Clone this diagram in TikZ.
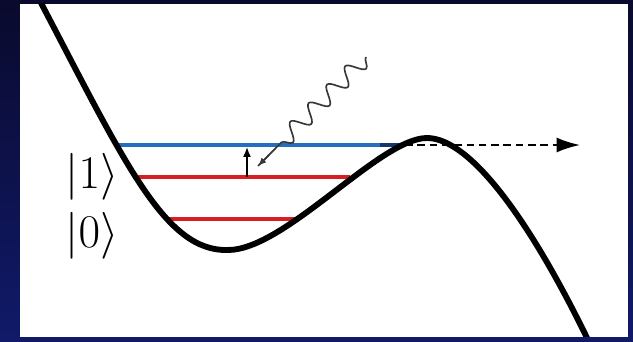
\RequirePackage{fix-cm}
\documentclass[tikz,border=0pt]{standalone}
\usepackage{amsmath}
\usepackage{xcolor}
\usetikzlibrary{arrows.meta,decorations.pathmorphing,calc}

\definecolor{framenavy}{RGB}{10,10,45}
\definecolor{framenavylow}{RGB}{16,26,105}
\definecolor{levelblue}{RGB}{35,110,190}
\definecolor{levelred}{RGB}{215,30,35}
\definecolor{photongray}{RGB}{55,55,55}

\tikzset{
  level/.style={line width=3.6pt},
  wall/.style={line width=5pt, black, line join=round},
  ket/.style={inner sep=0pt, font=\fontsize{40}{48}\selectfont}
}

\begin{document}
\begin{tikzpicture}[x=0.03cm, y=-0.03cm]
        \useasboundingbox (0,0) rectangle (633,342);

        % Frame and panel
        \shade[top color=framenavy, bottom color=framenavylow] (0,0) rectangle (633,342);
        \fill[white] (20,4) rectangle (628,337);

        % Energy levels
        \draw[level, levelblue] (115,145) -- (380,145);
        \draw[level, levelblue!45!framenavy] (380,145) -- (405,145);
        \draw[level, levelred] (133,177) -- (350,177);
        \draw[level, levelred] (166,219) -- (298,219);

        % Escape over the barrier
        \coordinate (barrier) at (405,145);
        \coordinate (escape) at (580,145);
        \draw[line width=1.8pt, dash pattern=on 6.5pt off 4pt, -{Latex[length=0.7cm, width=0.45cm]}] (barrier) -- (escape);

        % Potential
        \begin{scope}
          \clip (20,4) rectangle (628,337);
          \draw[wall] (40,1) .. controls (125,163) and (165,252) .. (228,250)
                             .. controls (285,250) and (380,138) .. (427,138)
                             .. controls (470,138) and (530,220) .. (589,342);
        \end{scope}

        % Excitation
        \coordinate (lower) at (247,177);
        \coordinate (upper) at (247,147);
        \draw[line width=1.3pt, -{Latex[length=0.3cm, width=0.24cm]}] (lower) -- (upper);

        % Incoming photon
        \coordinate (source) at (366,57);
        \coordinate (target) at (258,166);
        \draw[photongray, line width=1.4pt,
              decorate, decoration={snake, amplitude=0.25cm, segment length=0.78cm, post length=0.8cm}]
              (source) -- (target);
        \draw[photongray, line width=1.4pt, -{Latex[length=0.25cm, width=0.2cm]}] ($(target)!0.1!(source)$) -- (target);

        % Labels
        \node[ket] (one) at (92,177) {$\lvert 1\rangle$};
        \node[ket] (zero) at (92,236) {$\lvert 0\rangle$};
    \end{tikzpicture}
\end{document}
